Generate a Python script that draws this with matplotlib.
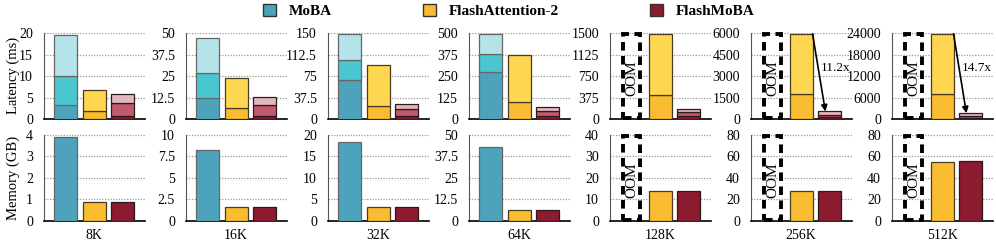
import numpy as np
import matplotlib.pyplot as plt
from matplotlib.patches import Patch, Rectangle
from matplotlib.ticker import FormatStrFormatter

plt.rcParams['font.family'] = ['Liberation Serif', 'DejaVu Serif']

seq_labels = ['8K', '16K', '32K', '64K', '128K', '256K', '512K']

# latency (ms), stacked segments bottom -> top, None = OOM
moba_lat = [[3.3, 6.7, 9.5], [12.5, 14.1, 20.5], [68.3, 34.4, 46.1], [274, 101.5, 120.5],
            None, None, None]
fa2_lat = [[1.8, 4.9], [6.2, 17.7], [23.3, 70.1], [101, 268.6], [420, 1068],
           [1728, 4222], [7000, 16800]]
fmoba_lat = [[0.7, 3.0, 2.2], [1.6, 6.8, 4.4], [4.7, 12.8, 9.3], [15.6, 33.4, 19],
             [50, 65, 55], [110, 150, 270], [320, 560, 740]]

# memory (GB)
moba_mem = [3.9, 8.25, 18.4, 43, None, None, None]
fa2_mem = [0.86, 1.62, 3.36, 6.6, 13.9, 27.5, 55]
fmoba_mem = [0.86, 1.62, 3.36, 6.6, 13.9, 27.8, 56]

lat_max = [20, 50, 150, 500, 1500, 6000, 24000]
mem_max = [4, 10, 20, 50, 40, 80, 80]

speedups = {5: '11.2x', 6: '14.7x'}

moba_cols = ['#4ea3bc', '#4ac6d0', '#b4e4ea']
fa2_cols = ['#fabd32', '#fed650']
fmoba_cols = ['#8c1b30', '#c05a6c', '#e4b6c0']
edge_cols = ['#666666', '#4a3a20', '#2a1a1a']


def style_axes(ax, ymax):
    ax.set_xlim(-0.75, 2.78)
    ax.set_ylim(0, ymax)
    ax.set_yticks(np.linspace(0, ymax, 5))
    ax.yaxis.set_major_formatter(FormatStrFormatter('%g'))
    ax.tick_params(axis='y', length=0, pad=8, labelsize=10)
    ax.tick_params(axis='x', length=0, pad=6, labelsize=10)
    ax.set_xticks([])
    ax.yaxis.grid(True, linestyle=(0, (1, 1.2)), color='#999999', lw=0.9)
    ax.set_axisbelow(True)
    ax.spines['top'].set_visible(False)
    ax.spines['right'].set_visible(False)
    ax.spines['left'].set_color('#555555')
    ax.spines['bottom'].set_color('black')
    ax.spines['bottom'].set_linewidth(1.2)


def stacked(ax, x, segs, cols, ec):
    bottom = 0
    for s, c in zip(segs, cols):
        ax.bar(x, s, 0.8, bottom=bottom, color=c, edgecolor=ec, lw=0.9, zorder=3)
        bottom += s


def oom(ax, ymax):
    ax.add_patch(Rectangle((-0.29, 0.012 * ymax), 0.58, 0.976 * ymax, fill=False,
                           ec='black', lw=2.8, ls=(0, (2.2, 1.4)), clip_on=False, zorder=4))
    ax.text(0, 0.47 * ymax, 'OOM', rotation=90, ha='center', va='center',
            fontsize=11, zorder=6)


fig = plt.figure(figsize=(9.96, 2.41), dpi=100)
lefts = [44, 186, 328, 469, 610, 751, 892]

for i in range(7):
    ax_t = fig.add_axes([lefts[i] / 996, 0.506, 101 / 996, 0.357])
    ax_b = fig.add_axes([lefts[i] / 996, 0.083, 101 / 996, 0.357])
    style_axes(ax_t, lat_max[i])
    style_axes(ax_b, mem_max[i])

    # latency
    if moba_lat[i] is None:
        oom(ax_t, lat_max[i])
    else:
        stacked(ax_t, 0, moba_lat[i], moba_cols, edge_cols[0])
    stacked(ax_t, 1, fa2_lat[i], fa2_cols, edge_cols[1])
    stacked(ax_t, 2, fmoba_lat[i], fmoba_cols, edge_cols[2])

    if i in speedups:
        top_fa = sum(fa2_lat[i])
        top_fm = sum(fmoba_lat[i])
        ax_t.annotate('', xy=(1.85, top_fm), xytext=(1.4, top_fa),
                      arrowprops=dict(arrowstyle='-|>', color='black', lw=1.2,
                                      mutation_scale=9, shrinkA=0, shrinkB=0), zorder=5)
        ax_t.text(1.7, 0.59 * lat_max[i], speedups[i], ha='left', va='center', fontsize=9.5)

    # memory
    if moba_mem[i] is None:
        oom(ax_b, mem_max[i])
    else:
        ax_b.bar(0, moba_mem[i], 0.8, color=moba_cols[0], edgecolor=edge_cols[0], lw=0.9, zorder=3)
    ax_b.bar(1, fa2_mem[i], 0.8, color=fa2_cols[0], edgecolor=edge_cols[1], lw=0.9, zorder=3)
    ax_b.bar(2, fmoba_mem[i], 0.8, color=fmoba_cols[0], edgecolor=edge_cols[2], lw=0.9, zorder=3)
    ax_b.set_xticks([1])
    ax_b.set_xticklabels([seq_labels[i]])

fig.text(0.013, 0.685, 'Latency (ms)', rotation=90, ha='center', va='center', fontsize=10.5)
fig.text(0.013, 0.26, 'Memory (GB)', rotation=90, ha='center', va='center', fontsize=10.5)

handles = [Patch(facecolor=moba_cols[0], edgecolor='#333333', label='MoBA'),
           Patch(facecolor=fa2_cols[0], edgecolor='#333333', label='FlashAttention-2'),
           Patch(facecolor=fmoba_cols[0], edgecolor='#333333', label='FlashMoBA')]
fig.legend(handles=handles, loc='center', bbox_to_anchor=(0.511, 0.954), ncol=3,
           frameon=False, prop={'weight': 'bold', 'size': 11},
           handlelength=0.85, handleheight=0.85, handletextpad=0.8, columnspacing=6.0)

fig.savefig('out.png', dpi=100)
